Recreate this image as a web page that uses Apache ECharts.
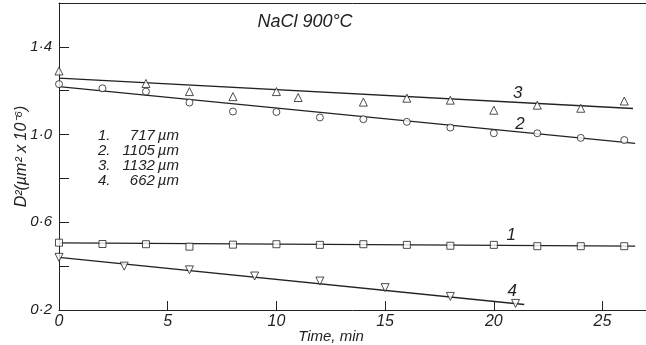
<!DOCTYPE html>
<html lang="en">
<head>
<meta charset="UTF-8">
<title>NaCl 900°C</title>
<script src="https://cdn.jsdelivr.net/npm/echarts@6/dist/echarts.min.js"></script>
<style>
    html, body { margin: 0; padding: 0; background: #fff; }
    #chart { width: 646px; height: 345px; }
</style>
</head>
<body>
<div id="chart"></div>
<script>
    // values (time in min, D^2 in um^2 x 10^-6)
    const t1 = [0, 2, 4, 6, 8, 10, 12, 14, 16, 18, 20, 22, 24, 26];
    const d1 = [0.507, 0.501, 0.500, 0.489, 0.498, 0.500, 0.497, 0.500, 0.497, 0.493, 0.497, 0.491, 0.491, 0.491];
    const t2 = [0, 2, 4, 6, 8, 10, 12, 14, 16, 18, 20, 22, 24, 26];
    const d2 = [1.230, 1.211, 1.196, 1.146, 1.105, 1.103, 1.078, 1.070, 1.058, 1.032, 1.006, 1.006, 0.985, 0.975];
    const t3 = [0, 4, 6, 8, 10, 11, 14, 16, 18, 20, 22, 24, 26];
    const d3 = [1.290, 1.233, 1.196, 1.173, 1.196, 1.169, 1.148, 1.166, 1.157, 1.111, 1.134, 1.120, 1.153];
    const t4 = [0, 3, 6, 9, 12, 15, 18, 21];
    const d4 = [0.440, 0.400, 0.383, 0.355, 0.332, 0.302, 0.262, 0.230];

    // fitted straight lines (end points)
    const fitT = [[0, 26.5], [0, 26.5], [0, 26.4], [0, 21.4]];
    const fitD = [[0.506, 0.491], [1.219, 0.960], [1.257, 1.119], [0.440, 0.225]];

    // curve numbers placed next to the lines
    const curveNames = ['1', '2', '3', '4'];
    const curveLabelT = [20.8, 21.2, 21.1, 20.85];
    const curveLabelD = [0.542, 1.045, 1.187, 0.287];

    // key of crystal sizes
    const keyIndex = ['1.', '2.', '3.', '4.'];
    const keySize = ['717\u2009µm', '1105\u2009µm', '1132\u2009µm', '662\u2009µm'];

    const xTicks = [0, 5, 10, 15, 20, 25];
    const ink = '#222';
    const font = "'Liberation Sans', Arial, sans-serif";

    const pts = (ts, ds) => ts.map((t, i) => [t, ds[i]]);
    const fmt = v => v.toFixed(1).replace('.', '·');

    const chart = echarts.init(document.getElementById('chart'));

    const markerStyle = { color: '#fff', borderColor: ink, borderWidth: 1 };
    const scatter = (data, symbol, size, rotate) => ({
        type: 'scatter', data: data, symbol: symbol, symbolSize: size,
        symbolRotate: rotate || 0, itemStyle: markerStyle, z: 3, silent: true
    });
    const fitLine = i => ({
        type: 'line', data: pts(fitT[i], fitD[i]), showSymbol: false,
        lineStyle: { color: ink, width: 1.3 }, z: 2, silent: true
    });

    chart.setOption({
        animation: false,
        backgroundColor: '#fff',
        grid: { left: 59, right: 0, top: 3, bottom: 35, outerBoundsMode: 'none' },
        xAxis: [{
            type: 'value', min: 0, max: 27, interval: 5,
            axisLine: { lineStyle: { color: ink, width: 1 } },
            axisTick: { inside: true, length: 9, lineStyle: { color: ink } },
            splitLine: { show: false },
            axisLabel: {
                color: ink, fontFamily: font, fontStyle: 'italic', fontSize: 16, margin: 4,
                showMaxLabel: false,
                formatter: v => xTicks.includes(v) ? String(v) : ''
            }
        }, {
            type: 'value', position: 'top', min: 0, max: 27,
            axisLine: { show: true, lineStyle: { color: ink, width: 1 } },
            axisTick: { show: false }, axisLabel: { show: false }, splitLine: { show: false }
        }],
        yAxis: {
            type: 'value', min: 0.2, max: 1.6, interval: 0.2,
            name: 'D²(µm² x 10⁻⁶)', nameLocation: 'middle', nameGap: 29, nameMoveOverlap: false,
            nameTextStyle: { color: ink, fontFamily: font, fontStyle: 'italic', fontSize: 16 },
            axisLine: { show: true, lineStyle: { color: ink, width: 1 } },
            axisTick: { inside: true, length: 10, lineStyle: { color: ink } },
            splitLine: { show: false },
            axisLabel: {
                color: ink, fontFamily: font, fontStyle: 'italic', fontSize: 15, margin: 7,
                formatter: v => (Math.round(v * 10) % 4 === 2) ? fmt(v) : ''
            }
        },
        series: [
            fitLine(0), fitLine(1), fitLine(2), fitLine(3),
            scatter(pts(t1, d1), 'rect', 7),
            scatter(pts(t2, d2), 'circle', 7),
            scatter(pts(t3, d3), 'triangle', 8),
            scatter(pts(t4, d4), 'triangle', 8, 180)
        ]
    });

    // annotations: curve numbers via the chart's own scales, plus title and key
    const txt = (x, y, text, size, align) => ({
        type: 'text', x: x, y: y, silent: true,
        style: {
            text: text, fill: ink, font: 'italic ' + size + 'px ' + font,
            textAlign: align || 'center', textVerticalAlign: 'middle'
        }
    });

    const graphics = [];
    curveNames.forEach((n, i) => {
        const p = chart.convertToPixel({ xAxisIndex: 0, yAxisIndex: 0 }, [curveLabelT[i], curveLabelD[i]]);
        graphics.push(txt(p[0], p[1], n, 17));
    });
    graphics.push(txt(305, 22, 'NaCl 900°C', 18));
    keyIndex.forEach((k, i) => {
        graphics.push(txt(98, 136 + i * 15, k, 15, 'left'));
        graphics.push(txt(179, 136 + i * 15, keySize[i], 15, 'right'));
    });
    graphics.push(txt(331, 337, 'Time, min', 15));

    chart.setOption({ graphic: graphics });
</script>
</body>
</html>
